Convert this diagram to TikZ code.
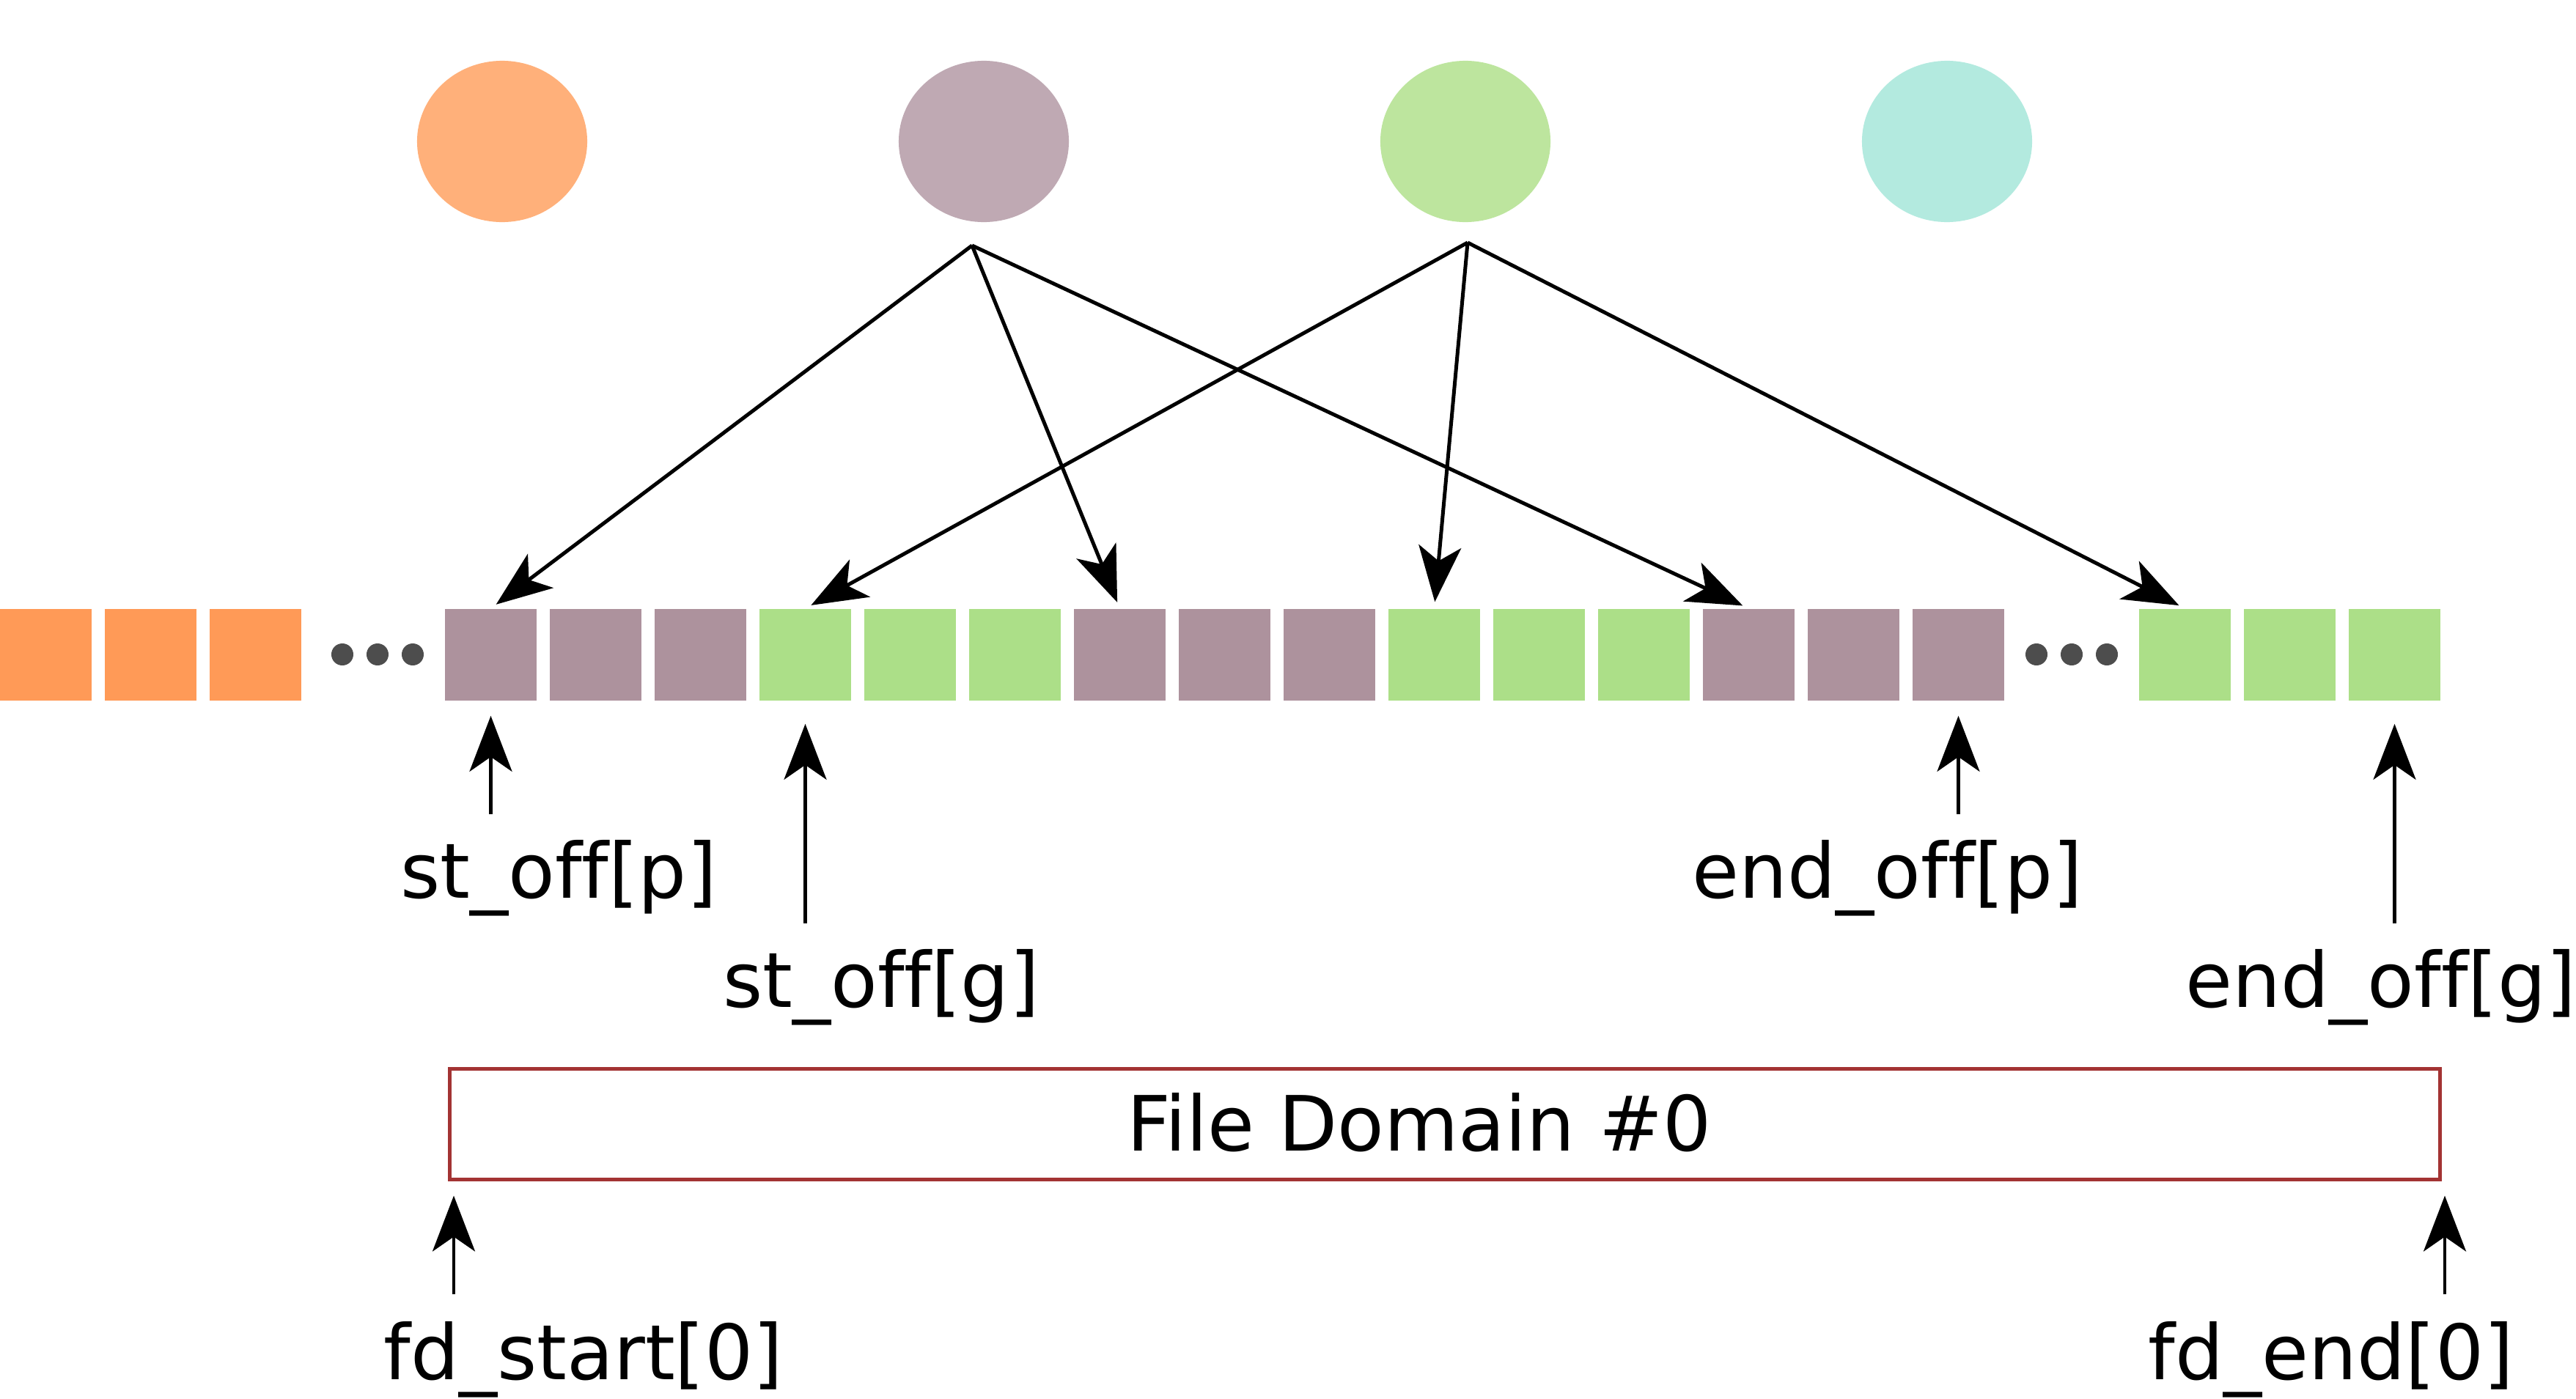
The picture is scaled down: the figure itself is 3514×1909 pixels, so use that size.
\documentclass[tikz,border=0pt]{standalone}
\usepackage{fontspec}
\setmainfont{DejaVu Sans}[Ligatures=NoCommon]
\usetikzlibrary{arrows.meta,shapes.geometric}
\definecolor{cOr}{HTML}{FFB07A}
\definecolor{cPu}{HTML}{BFA9B3}
\definecolor{cGr}{HTML}{BDE59E}
\definecolor{cTe}{HTML}{B3EADF}
\definecolor{sOr}{HTML}{FF9A57}
\definecolor{sPu}{HTML}{AD929D}
\definecolor{sGr}{HTML}{ACDF88}
\definecolor{dotc}{HTML}{4D4D4D}
\definecolor{boxred}{HTML}{A33333}
\begin{document}
\begin{tikzpicture}[x=0.01cm,y=-0.01cm,
  cell/.style={minimum width=1.25cm,minimum height=1.25cm,inner sep=0pt,draw=none},
  blob/.style={ellipse,minimum width=2.32cm,minimum height=2.2cm,inner sep=0pt,draw=none},
  dotmark/.style={circle,fill=dotc,minimum size=0.3cm,inner sep=0pt,draw=none},
  tip/.style={-{Stealth[length=0.76cm,width=0.58cm,inset=0.2cm]}},
  toparrow/.style={tip,line width=0.05cm,shorten >=0.09cm},
  botarrow/.style={tip,line width=0.042cm},
  lbl/.style={anchor=base,inner sep=0pt,font=\fontsize{29.6pt}{35pt}\selectfont}
]
\useasboundingbox (0,0) rectangle (3514,1909);

% processes
\node[blob,fill=cOr] (c1) at (685,193) {};
\node[blob,fill=cPu] (c2) at (1342,193) {};
\node[blob,fill=cGr] (c3) at (1999,193) {};
\node[blob,fill=cTe] (c4) at (2656,193) {};

% left orange blocks
\foreach \i in {1,2,3}
  \node[cell,fill=sOr] (o\i) at ({62.5+143*(\i-1)},893.5) {};
\foreach \i/\x in {1/467,2/515,3/563}
  \node[dotmark] (dl\i) at (\x,893) {};

% main blocks
\foreach \i/\c in {1/sPu,2/sPu,3/sPu,4/sGr,5/sGr,6/sGr,7/sPu,8/sPu,9/sPu,10/sGr,11/sGr,12/sGr,13/sPu,14/sPu,15/sPu}
  \node[cell,fill=\c] (s\i) at ({669.5+143*(\i-1)},893.5) {};
\foreach \i/\x in {1/2778,2/2826,3/2874}
  \node[dotmark] (dr\i) at (\x,893) {};
\foreach \i in {1,2,3}
  \node[cell,fill=sGr] (r\i) at ({2980.5+143*(\i-1)},893.5) {};

% top arrows
\coordinate (pa) at (1326,335);
\coordinate (ga) at (2002,331);
\draw[toparrow] (pa) -- (s1.north);
\draw[toparrow] (pa) -- (s7.north);
\draw[toparrow] (pa) -- (s13.north);
\draw[toparrow] (ga) -- (s4.north);
\draw[toparrow] (ga) -- (s10.north);
\draw[toparrow] (ga) -- (r1.north);

% offsets
\node[lbl] (lp) at (762,1225) {st\_off[p]};
\node[lbl] (lg) at (1202,1374) {st\_off[g]};
\node[lbl] (lep) at (2575,1225) {end\_off[p]};
\node[lbl] (leg) at (3248,1374) {end\_off[g]};
\coordinate (tp) at (669.5,1111);
\coordinate (tg) at (1098.5,1260);
\coordinate (tep) at (2671.5,1111);
\coordinate (teg) at (3266.5,1260);
\draw[botarrow,shorten >=0.2cm] (tp) -- (s1.south);
\draw[botarrow,shorten >=0.31cm] (tg) -- (s4.south);
\draw[botarrow,shorten >=0.2cm] (tep) -- (s15.south);
\draw[botarrow,shorten >=0.31cm] (teg) -- (r3.south);

% file domain
\node[draw=boxred,line width=0.05cm,minimum width=27.13cm,minimum height=1.5cm,inner sep=0pt] (fd) at (1971,1534) {};
\node[lbl] (fdt) at (1936,1570) {File Domain \#0};
\node[lbl] (fs) at (796,1882) {fd\_start[0]};
\node[lbl] (fe) at (3180,1882) {fd\_end[0]};
\coordinate (ts) at (619,1766);
\coordinate (te) at (3335,1766);
\draw[botarrow,shorten >=0.2cm] (ts) -- (ts |- fd.south);
\draw[botarrow,shorten >=0.2cm] (te) -- (te |- fd.south);
\end{tikzpicture}
\end{document}
